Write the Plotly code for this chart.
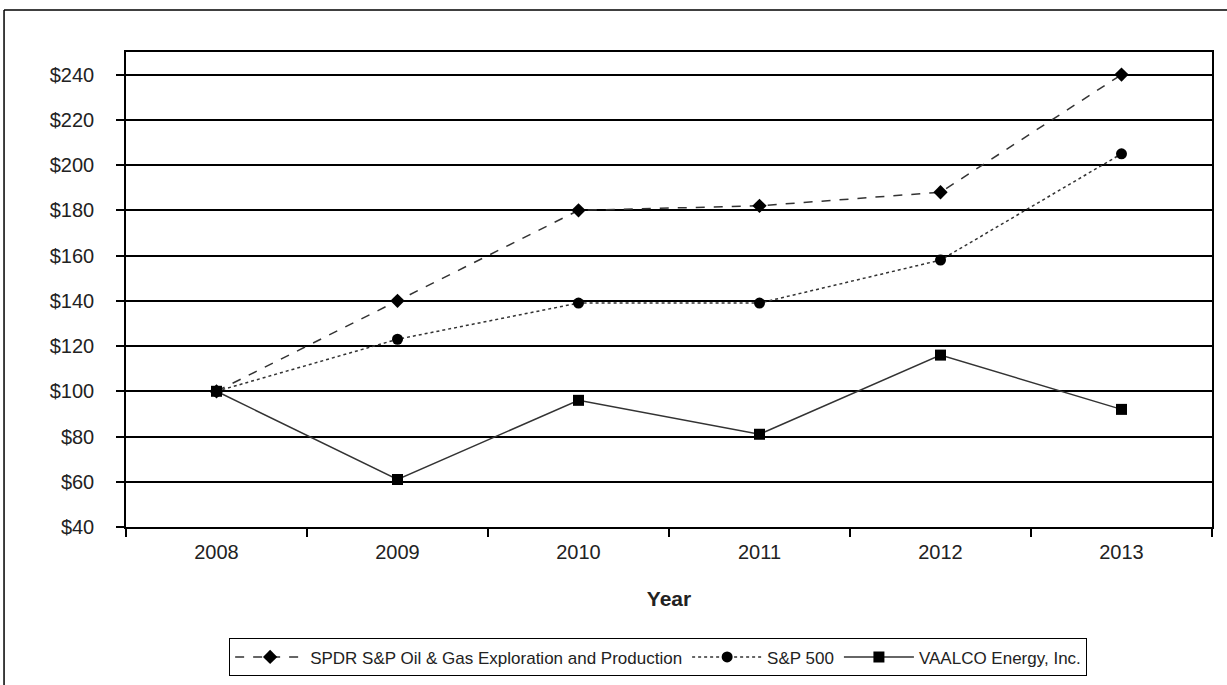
import plotly.graph_objects as go

years = ["2008", "2009", "2010", "2011", "2012", "2013"]
spdr = [100, 140, 180, 182, 188, 240]
sp500 = [100, 123, 139, 139, 158, 205]
vaalco = [100, 61, 96, 81, 116, 92]
y_ticks = [40, 60, 80, 100, 120, 140, 160, 180, 200, 220, 240]
y_labels = ["$" + str(v) for v in y_ticks]

fig = go.Figure()
fig.add_trace(go.Scatter(x=years, y=spdr, mode="lines+markers",
                         name="SPDR S&P Oil & Gas Exploration and Production",
                         line=dict(color="#333333", width=1.5, dash="dash"),
                         marker=dict(symbol="diamond", size=11, color="black")))
fig.add_trace(go.Scatter(x=years, y=sp500, mode="lines+markers", name="S&P 500",
                         line=dict(color="#333333", width=1.5, dash="dot"),
                         marker=dict(symbol="circle", size=11, color="black")))
fig.add_trace(go.Scatter(x=years, y=vaalco, mode="lines+markers", name="VAALCO Energy, Inc.",
                         line=dict(color="#333333", width=1.5),
                         marker=dict(symbol="square", size=11, color="black")))

fig.update_layout(
    width=1227, height=685,
    margin=dict(l=126, r=15, t=52, b=158),
    paper_bgcolor="white", plot_bgcolor="white",
    font=dict(family="Liberation Sans, Arial, sans-serif", color="#222222"),
    showlegend=True,
    legend=dict(orientation="h", x=0.49, xanchor="center",
                yref="container", y=0.068, yanchor="top",
                bordercolor="black", borderwidth=1, font=dict(size=17),
                itemwidth=70, traceorder="normal"),
    xaxis=dict(type="category", range=[-0.5, 5.5], tickson="boundaries",
               ticks="outside", ticklen=8, tickcolor="black", tickwidth=1.5,
               ticklabelstandoff=6, automargin=False,
               showline=True, linecolor="black", linewidth=1.5, mirror=True,
               showgrid=False, tickfont=dict(size=20),
               title=dict(text="<b>Year</b>", font=dict(size=21), standoff=30)),
    yaxis=dict(range=[40, 250], tickvals=y_ticks, ticktext=y_labels,
               ticks="outside", ticklen=8, tickcolor="black", tickwidth=1.5,
               ticklabelstandoff=18, automargin=False,
               showline=True, linecolor="black", linewidth=1.5, mirror=True,
               showgrid=True, gridcolor="black", gridwidth=1.5,
               zeroline=False, tickfont=dict(size=20)),
)

# outer frame
fig.add_shape(type="line", xref="paper", yref="paper", x0=-0.1123, x1=1.05, y0=1.0884, y1=1.0884,
              line=dict(color="black", width=1.5))
fig.add_shape(type="line", xref="paper", yref="paper", x0=-0.1123, x1=-0.1123, y0=1.0884, y1=-0.4,
              line=dict(color="black", width=1.5))

fig.write_html("out.html", config={"displayModeBar": False},
               post_script="document.body.style.margin='0';")
